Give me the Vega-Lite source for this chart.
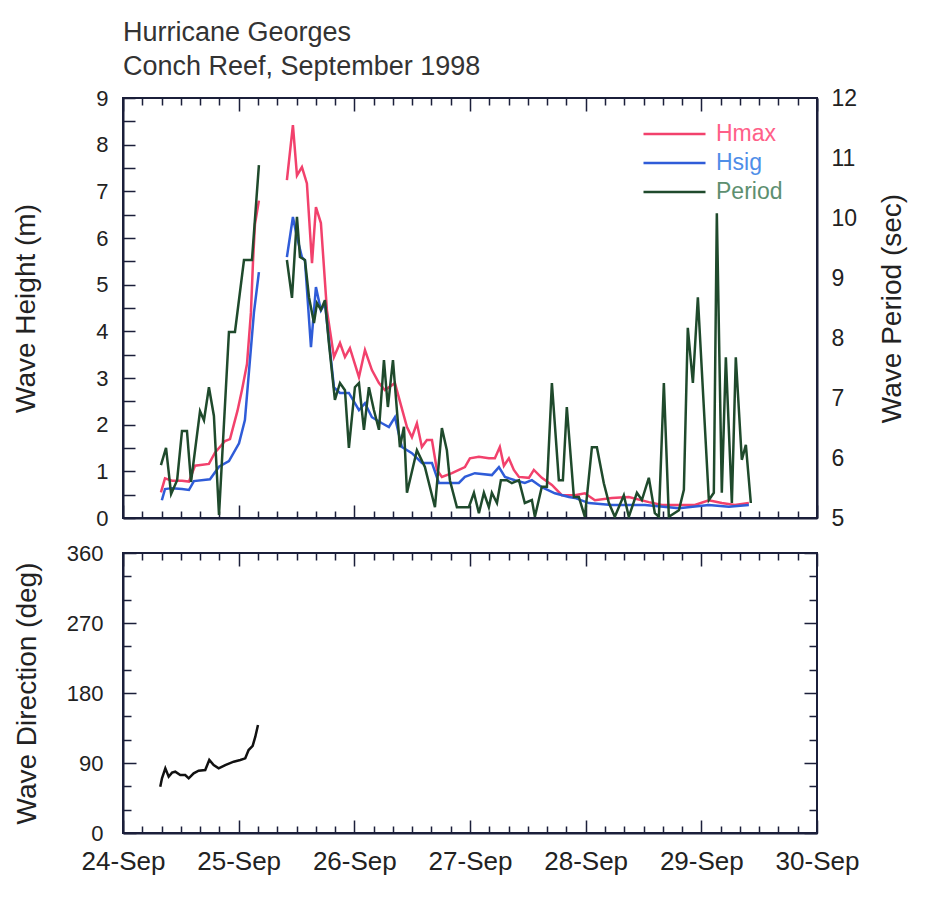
{
  "$schema": "https://vega.github.io/schema/vega-lite/v6.json",
  "padding": {"left": 11, "top": 18, "right": 5, "bottom": 5},
  "background": "white",
  "config": {
    "font": "Liberation Sans",
    "view": {"stroke": "#1b1f3a", "strokeWidth": 2},
    "axis": {"domainColor": "#1b1f3a", "domainWidth": 2, "ticks": false, "grid": true, "gridColor": "#1b1f3a", "gridWidth": 1.5, "gridOpacity": 1, "labelColor": "#222", "labelFontSize": 22, "titleFontSize": 28, "titleFontWeight": "normal", "titleColor": "#222", "labelFlush": false, "labelOverlap": false, "labelFont": "Liberation Sans", "titleFont": "Liberation Sans"}
  },
  "datasets": {
    "waves": [
      {"series":"Hmax","seg":1,"day":24.328,"value":0.55},{"series":"Hmax","seg":1,"day":24.363,"value":0.85},{"series":"Hmax","seg":1,"day":24.424,"value":0.8},{"series":"Hmax","seg":1,"day":24.51,"value":0.8},{"series":"Hmax","seg":1,"day":24.57,"value":0.78},{"series":"Hmax","seg":1,"day":24.622,"value":1.12},{"series":"Hmax","seg":1,"day":24.743,"value":1.16},{"series":"Hmax","seg":1,"day":24.795,"value":1.4},{"series":"Hmax","seg":1,"day":24.882,"value":1.65},{"series":"Hmax","seg":1,"day":24.925,"value":1.69},{"series":"Hmax","seg":1,"day":24.99,"value":2.3},{"series":"Hmax","seg":1,"day":25.029,"value":2.75},{"series":"Hmax","seg":1,"day":25.072,"value":3.3},{"series":"Hmax","seg":1,"day":25.106,"value":4.4},{"series":"Hmax","seg":1,"day":25.124,"value":5.5},{"series":"Hmax","seg":1,"day":25.141,"value":6.3},{"series":"Hmax","seg":1,"day":25.175,"value":6.8},
      {"series":"Hmax","seg":2,"day":25.417,"value":7.24},{"series":"Hmax","seg":2,"day":25.469,"value":8.42},{"series":"Hmax","seg":2,"day":25.504,"value":7.34},{"series":"Hmax","seg":2,"day":25.547,"value":7.52},{"series":"Hmax","seg":2,"day":25.59,"value":7.17},{"series":"Hmax","seg":2,"day":25.634,"value":5.46},{"series":"Hmax","seg":2,"day":25.668,"value":6.66},{"series":"Hmax","seg":2,"day":25.711,"value":6.32},{"series":"Hmax","seg":2,"day":25.763,"value":4.45},{"series":"Hmax","seg":2,"day":25.824,"value":3.45},{"series":"Hmax","seg":2,"day":25.876,"value":3.75},{"series":"Hmax","seg":2,"day":25.919,"value":3.45},{"series":"Hmax","seg":2,"day":25.962,"value":3.64},{"series":"Hmax","seg":2,"day":26.04,"value":3.02},{"series":"Hmax","seg":2,"day":26.092,"value":3.6},{"series":"Hmax","seg":2,"day":26.152,"value":3.17},{"series":"Hmax","seg":2,"day":26.213,"value":2.89},{"series":"Hmax","seg":2,"day":26.264,"value":2.74},{"series":"Hmax","seg":2,"day":26.351,"value":2.89},{"series":"Hmax","seg":2,"day":26.394,"value":2.5},{"series":"Hmax","seg":2,"day":26.455,"value":1.95},{"series":"Hmax","seg":2,"day":26.498,"value":1.73},{"series":"Hmax","seg":2,"day":26.541,"value":2.03},{"series":"Hmax","seg":2,"day":26.584,"value":1.52},{"series":"Hmax","seg":2,"day":26.627,"value":1.67},{"series":"Hmax","seg":2,"day":26.671,"value":1.67},{"series":"Hmax","seg":2,"day":26.714,"value":1.03},{"series":"Hmax","seg":2,"day":26.757,"value":0.88},{"series":"Hmax","seg":2,"day":26.844,"value":0.96},{"series":"Hmax","seg":2,"day":26.904,"value":1.03},{"series":"Hmax","seg":2,"day":26.956,"value":1.09},{"series":"Hmax","seg":2,"day":26.999,"value":1.28},{"series":"Hmax","seg":2,"day":27.077,"value":1.31},{"series":"Hmax","seg":2,"day":27.163,"value":1.28},{"series":"Hmax","seg":2,"day":27.215,"value":1.28},{"series":"Hmax","seg":2,"day":27.258,"value":1.52},{"series":"Hmax","seg":2,"day":27.293,"value":1.12},{"series":"Hmax","seg":2,"day":27.336,"value":1.28},{"series":"Hmax","seg":2,"day":27.379,"value":1.03},{"series":"Hmax","seg":2,"day":27.423,"value":0.88},{"series":"Hmax","seg":2,"day":27.509,"value":0.86},{"series":"Hmax","seg":2,"day":27.552,"value":1.03},{"series":"Hmax","seg":2,"day":27.621,"value":0.86},{"series":"Hmax","seg":2,"day":27.708,"value":0.71},{"series":"Hmax","seg":2,"day":27.794,"value":0.49},{"series":"Hmax","seg":2,"day":27.907,"value":0.49},{"series":"Hmax","seg":2,"day":27.993,"value":0.53},{"series":"Hmax","seg":2,"day":28.08,"value":0.38},{"series":"Hmax","seg":2,"day":28.226,"value":0.43},{"series":"Hmax","seg":2,"day":28.373,"value":0.45},{"series":"Hmax","seg":2,"day":28.546,"value":0.34},{"series":"Hmax","seg":2,"day":28.659,"value":0.28},{"series":"Hmax","seg":2,"day":28.806,"value":0.28},{"series":"Hmax","seg":2,"day":28.944,"value":0.28},{"series":"Hmax","seg":2,"day":29.065,"value":0.38},{"series":"Hmax","seg":2,"day":29.177,"value":0.32},{"series":"Hmax","seg":2,"day":29.29,"value":0.28},{"series":"Hmax","seg":2,"day":29.411,"value":0.32},
      {"series":"Hsig","seg":1,"day":24.336,"value":0.38},{"series":"Hsig","seg":1,"day":24.363,"value":0.62},{"series":"Hsig","seg":1,"day":24.424,"value":0.64},{"series":"Hsig","seg":1,"day":24.51,"value":0.62},{"series":"Hsig","seg":1,"day":24.57,"value":0.6},{"series":"Hsig","seg":1,"day":24.613,"value":0.79},{"series":"Hsig","seg":1,"day":24.752,"value":0.83},{"series":"Hsig","seg":1,"day":24.83,"value":1.1},{"series":"Hsig","seg":1,"day":24.916,"value":1.22},{"series":"Hsig","seg":1,"day":25.003,"value":1.6},{"series":"Hsig","seg":1,"day":25.054,"value":2.1},{"series":"Hsig","seg":1,"day":25.098,"value":3.4},{"series":"Hsig","seg":1,"day":25.132,"value":4.4},{"series":"Hsig","seg":1,"day":25.175,"value":5.27},
      {"series":"Hsig","seg":2,"day":25.417,"value":5.59},{"series":"Hsig","seg":2,"day":25.469,"value":6.45},{"series":"Hsig","seg":2,"day":25.504,"value":6.02},{"series":"Hsig","seg":2,"day":25.547,"value":5.59},{"series":"Hsig","seg":2,"day":25.573,"value":5.52},{"series":"Hsig","seg":2,"day":25.625,"value":3.66},{"series":"Hsig","seg":2,"day":25.668,"value":4.95},{"series":"Hsig","seg":2,"day":25.711,"value":4.45},{"series":"Hsig","seg":2,"day":25.746,"value":4.6},{"series":"Hsig","seg":2,"day":25.824,"value":2.8},{"series":"Hsig","seg":2,"day":25.876,"value":2.68},{"series":"Hsig","seg":2,"day":25.953,"value":2.68},{"series":"Hsig","seg":2,"day":26.04,"value":2.31},{"series":"Hsig","seg":2,"day":26.092,"value":2.46},{"series":"Hsig","seg":2,"day":26.152,"value":2.16},{"series":"Hsig","seg":2,"day":26.239,"value":2.03},{"series":"Hsig","seg":2,"day":26.299,"value":1.95},{"series":"Hsig","seg":2,"day":26.351,"value":2.16},{"series":"Hsig","seg":2,"day":26.411,"value":1.52},{"series":"Hsig","seg":2,"day":26.498,"value":1.39},{"series":"Hsig","seg":2,"day":26.584,"value":1.18},{"series":"Hsig","seg":2,"day":26.671,"value":1.18},{"series":"Hsig","seg":2,"day":26.731,"value":0.75},{"series":"Hsig","seg":2,"day":26.904,"value":0.75},{"series":"Hsig","seg":2,"day":26.956,"value":0.88},{"series":"Hsig","seg":2,"day":27.042,"value":0.96},{"series":"Hsig","seg":2,"day":27.189,"value":0.92},{"series":"Hsig","seg":2,"day":27.25,"value":1.09},{"series":"Hsig","seg":2,"day":27.302,"value":0.88},{"series":"Hsig","seg":2,"day":27.388,"value":0.81},{"series":"Hsig","seg":2,"day":27.474,"value":0.75},{"series":"Hsig","seg":2,"day":27.535,"value":0.81},{"series":"Hsig","seg":2,"day":27.621,"value":0.66},{"series":"Hsig","seg":2,"day":27.734,"value":0.53},{"series":"Hsig","seg":2,"day":27.855,"value":0.45},{"series":"Hsig","seg":2,"day":27.907,"value":0.43},{"series":"Hsig","seg":2,"day":28.028,"value":0.32},{"series":"Hsig","seg":2,"day":28.226,"value":0.28},{"series":"Hsig","seg":2,"day":28.512,"value":0.28},{"series":"Hsig","seg":2,"day":28.806,"value":0.21},{"series":"Hsig","seg":2,"day":29.065,"value":0.28},{"series":"Hsig","seg":2,"day":29.238,"value":0.24},{"series":"Hsig","seg":2,"day":29.411,"value":0.28},
      {"series":"Period","seg":1,"day":24.328,"value":5.88},{"series":"Period","seg":1,"day":24.372,"value":6.17},{"series":"Period","seg":1,"day":24.416,"value":5.4},{"series":"Period","seg":1,"day":24.468,"value":5.63},{"series":"Period","seg":1,"day":24.51,"value":6.45},{"series":"Period","seg":1,"day":24.553,"value":6.45},{"series":"Period","seg":1,"day":24.588,"value":5.6},{"series":"Period","seg":1,"day":24.666,"value":6.78},{"series":"Period","seg":1,"day":24.7,"value":6.63},{"series":"Period","seg":1,"day":24.743,"value":7.18},{"series":"Period","seg":1,"day":24.786,"value":6.7},{"series":"Period","seg":1,"day":24.83,"value":5.05},{"series":"Period","seg":1,"day":24.916,"value":8.1},{"series":"Period","seg":1,"day":24.968,"value":8.1},{"series":"Period","seg":1,"day":25.046,"value":9.3},{"series":"Period","seg":1,"day":25.115,"value":9.3},{"series":"Period","seg":1,"day":25.175,"value":10.88},
      {"series":"Period","seg":2,"day":25.417,"value":9.3},{"series":"Period","seg":2,"day":25.461,"value":8.67},{"series":"Period","seg":2,"day":25.504,"value":10.02},{"series":"Period","seg":2,"day":25.53,"value":9.35},{"series":"Period","seg":2,"day":25.573,"value":9.3},{"series":"Period","seg":2,"day":25.608,"value":8.68},{"series":"Period","seg":2,"day":25.651,"value":8.25},{"series":"Period","seg":2,"day":25.677,"value":8.58},{"series":"Period","seg":2,"day":25.711,"value":8.47},{"series":"Period","seg":2,"day":25.746,"value":8.63},{"series":"Period","seg":2,"day":25.78,"value":7.92},{"series":"Period","seg":2,"day":25.832,"value":6.97},{"series":"Period","seg":2,"day":25.876,"value":7.25},{"series":"Period","seg":2,"day":25.919,"value":7.13},{"series":"Period","seg":2,"day":25.953,"value":6.17},{"series":"Period","seg":2,"day":26.005,"value":7.18},{"series":"Period","seg":2,"day":26.04,"value":7.25},{"series":"Period","seg":2,"day":26.083,"value":6.47},{"series":"Period","seg":2,"day":26.126,"value":7.18},{"series":"Period","seg":2,"day":26.169,"value":6.8},{"series":"Period","seg":2,"day":26.213,"value":6.47},{"series":"Period","seg":2,"day":26.256,"value":7.63},{"series":"Period","seg":2,"day":26.29,"value":6.85},{"series":"Period","seg":2,"day":26.334,"value":7.63},{"series":"Period","seg":2,"day":26.368,"value":6.8},{"series":"Period","seg":2,"day":26.394,"value":6.18},{"series":"Period","seg":2,"day":26.429,"value":6.52},{"series":"Period","seg":2,"day":26.455,"value":5.42},{"series":"Period","seg":2,"day":26.541,"value":6.13},{"series":"Period","seg":2,"day":26.61,"value":5.85},{"series":"Period","seg":2,"day":26.697,"value":5.18},{"series":"Period","seg":2,"day":26.757,"value":6.5},{"series":"Period","seg":2,"day":26.8,"value":6.13},{"series":"Period","seg":2,"day":26.826,"value":5.63},{"series":"Period","seg":2,"day":26.887,"value":5.18},{"series":"Period","seg":2,"day":26.99,"value":5.18},{"series":"Period","seg":2,"day":27.034,"value":5.42},{"series":"Period","seg":2,"day":27.077,"value":5.08},{"series":"Period","seg":2,"day":27.12,"value":5.42},{"series":"Period","seg":2,"day":27.163,"value":5.18},{"series":"Period","seg":2,"day":27.189,"value":5.42},{"series":"Period","seg":2,"day":27.233,"value":5.25},{"series":"Period","seg":2,"day":27.267,"value":5.63},{"series":"Period","seg":2,"day":27.319,"value":5.63},{"series":"Period","seg":2,"day":27.362,"value":5.58},{"series":"Period","seg":2,"day":27.423,"value":5.63},{"series":"Period","seg":2,"day":27.474,"value":5.25},{"series":"Period","seg":2,"day":27.535,"value":5.3},{"series":"Period","seg":2,"day":27.561,"value":5.02},{"series":"Period","seg":2,"day":27.621,"value":5.52},{"series":"Period","seg":2,"day":27.665,"value":5.52},{"series":"Period","seg":2,"day":27.708,"value":7.25},{"series":"Period","seg":2,"day":27.768,"value":5.63},{"series":"Period","seg":2,"day":27.803,"value":5.63},{"series":"Period","seg":2,"day":27.837,"value":6.85},{"series":"Period","seg":2,"day":27.898,"value":5.35},{"series":"Period","seg":2,"day":27.941,"value":5.35},{"series":"Period","seg":2,"day":27.993,"value":5.02},{"series":"Period","seg":2,"day":28.054,"value":6.18},{"series":"Period","seg":2,"day":28.097,"value":6.18},{"series":"Period","seg":2,"day":28.157,"value":5.58},{"series":"Period","seg":2,"day":28.201,"value":5.25},{"series":"Period","seg":2,"day":28.252,"value":5.02},{"series":"Period","seg":2,"day":28.33,"value":5.38},{"series":"Period","seg":2,"day":28.373,"value":5.02},{"series":"Period","seg":2,"day":28.443,"value":5.42},{"series":"Period","seg":2,"day":28.486,"value":5.3},{"series":"Period","seg":2,"day":28.546,"value":5.67},{"series":"Period","seg":2,"day":28.598,"value":5.08},{"series":"Period","seg":2,"day":28.633,"value":5.02},{"series":"Period","seg":2,"day":28.676,"value":7.25},{"series":"Period","seg":2,"day":28.719,"value":5.02},{"series":"Period","seg":2,"day":28.806,"value":5.13},{"series":"Period","seg":2,"day":28.849,"value":5.47},{"series":"Period","seg":2,"day":28.883,"value":8.17},{"series":"Period","seg":2,"day":28.927,"value":7.25},{"series":"Period","seg":2,"day":28.97,"value":8.68},{"series":"Period","seg":2,"day":29.065,"value":5.3},{"series":"Period","seg":2,"day":29.108,"value":5.42},{"series":"Period","seg":2,"day":29.134,"value":10.08},{"series":"Period","seg":2,"day":29.177,"value":5.42},{"series":"Period","seg":2,"day":29.212,"value":7.68},{"series":"Period","seg":2,"day":29.264,"value":5.25},{"series":"Period","seg":2,"day":29.298,"value":7.68},{"series":"Period","seg":2,"day":29.35,"value":5.97},{"series":"Period","seg":2,"day":29.385,"value":6.22},{"series":"Period","seg":2,"day":29.428,"value":5.25}
    ],
    "direction": [
      {"day":24.322,"value":59.5},{"day":24.337,"value":70.3},{"day":24.366,"value":83.2},{"day":24.395,"value":72.4},{"day":24.424,"value":77.6},{"day":24.452,"value":78.8},{"day":24.495,"value":74.6},{"day":24.538,"value":74.6},{"day":24.568,"value":70.3},{"day":24.611,"value":76.8},{"day":24.654,"value":80.1},{"day":24.711,"value":81},{"day":24.746,"value":93.9},{"day":24.784,"value":87.4},{"day":24.827,"value":83.2},{"day":24.884,"value":87.4},{"day":24.957,"value":91.7},{"day":25.014,"value":93.9},{"day":25.057,"value":96},{"day":25.086,"value":106.7},{"day":25.121,"value":111.9},{"day":25.144,"value":123.8},{"day":25.167,"value":138.9}
    ]
  },
  "spacing": 10,
  "resolve": {"scale": {"color": "independent"}, "legend": {"color": "independent"}},
  "vconcat": [
    {
      "width": 694,
      "height": 420,
      "title": {"text": ["Hurricane Georges", "Conch Reef, September 1998"], "anchor": "start", "frame": "group", "fontSize": 27, "fontWeight": "normal", "color": "#333", "lineHeight": 34, "offset": 6, "font": "Liberation Sans"},
      "data": {"name": "waves"},
      "layer": [
        {
          "transform": [{"filter": "datum.series !== 'Period'"}],
          "mark": {"type": "line", "strokeWidth": 2.5, "clip": true},
          "encoding": {
            "x": {
              "field": "day",
              "type": "quantitative",
              "scale": {"domain": [24, 30], "nice": false, "zero": false},
              "axis": {
                "orient": "bottom",
                "title": null,
                "labels": false,
                "values": [24,24.1667,24.3333,24.5,24.6667,24.8333,25,25.1667,25.3333,25.5,25.6667,25.8333,26,26.1667,26.3333,26.5,26.6667,26.8333,27,27.1667,27.3333,27.5,27.6667,27.8333,28,28.1667,28.3333,28.5,28.6667,28.8333,29,29.1667,29.3333,29.5,29.6667,29.8333,30],
                "gridDash": {"condition": {"test": "abs(datum.value - round(datum.value)) < 0.01", "value": [13, 394, 13, 0]}, "value": [7, 406, 7, 0]}
              }
            },
            "y": {
              "field": "value",
              "type": "quantitative",
              "scale": {"domain": [0, 9], "nice": false},
              "axis": {
                "orient": "left",
                "title": "Wave Height (m)",
                "titlePadding": 55,
                "values": [0,0.5,1,1.5,2,2.5,3,3.5,4,4.5,5,5.5,6,6.5,7,7.5,8,8.5,9],
                "gridDash": [12, 682],
                "labelPadding": 15,
                "labelExpr": "datum.value % 1 === 0 ? '' + datum.value : ''"
              }
            },
            "color": {
              "field": "series",
              "type": "nominal",
              "scale": {"domain": ["Hmax", "Hsig", "Period"], "range": ["#f2416c", "#2f5cd8", "#1f4a2c"]},
              "legend": {
                "title": null,
                "orient": "none",
                "legendX": 519,
                "legendY": 26,
                "symbolType": "stroke",
                "symbolSize": 3844,
                "symbolStrokeWidth": 2.5,
                "labelFontSize": 23,
                "labelFont": "Liberation Sans",
                "clipHeight": 20,
                "rowPadding": 6,
                "labelOffset": 9,
                "encode": {
                  "labels": {
                    "update": {
                      "fill": {"signal": "datum.value === 'Hmax' ? '#ff6088' : datum.value === 'Hsig' ? '#4f8ee8' : '#5d8f70'"}
                    }
                  }
                }
              }
            },
            "detail": {"field": "seg", "type": "nominal"}
          }
        },
        {
          "transform": [{"filter": "datum.series === 'Period'"}],
          "mark": {"type": "line", "strokeWidth": 2.5, "clip": true},
          "encoding": {
            "x": {
              "field": "day",
              "type": "quantitative",
              "scale": {"domain": [24, 30], "nice": false, "zero": false},
              "axis": null
            },
            "y": {
              "field": "value",
              "type": "quantitative",
              "scale": {"domain": [5, 12], "nice": false, "zero": false},
              "axis": {
                "orient": "right",
                "title": "Wave Period (sec)",
                "titleAngle": 270,
                "titleBaseline": "top",
                "titlePadding": 22,
                "values": [5,5.5,6,6.5,7,7.5,8,8.5,9,9.5,10,10.5,11,11.5,12],
                "gridDash": {"condition": {"test": "datum.value % 1 === 0", "value": [12, 682]}, "value": [7, 687]},
                "labelFontSize": 23,
                "labelPadding": 14,
                "labelExpr": "datum.value % 1 === 0 ? '' + datum.value : ''"
              }
            },
            "color": {
              "field": "series",
              "type": "nominal",
              "scale": {"domain": ["Hmax", "Hsig", "Period"], "range": ["#f2416c", "#2f5cd8", "#1f4a2c"]}
            },
            "detail": {"field": "seg", "type": "nominal"}
          }
        }
      ],
      "resolve": {"scale": {"x": "independent", "y": "independent"}, "axis": {"x": "independent", "y": "independent"}}
    },
    {
      "width": 694,
      "height": 280,
      "data": {"name": "direction"},
      "mark": {"type": "line", "color": "#111", "strokeWidth": 2.5},
      "encoding": {
        "x": {
          "field": "day",
          "type": "quantitative",
          "scale": {"domain": [24, 30], "nice": false, "zero": false},
          "axis": {
            "orient": "bottom",
            "title": null,
            "labelFontSize": 26,
            "labelPadding": 15,
            "values": [24,24.1667,24.3333,24.5,24.6667,24.8333,25,25.1667,25.3333,25.5,25.6667,25.8333,26,26.1667,26.3333,26.5,26.6667,26.8333,27,27.1667,27.3333,27.5,27.6667,27.8333,28,28.1667,28.3333,28.5,28.6667,28.8333,29,29.1667,29.3333,29.5,29.6667,29.8333,30],
            "labelExpr": "abs(datum.value - round(datum.value)) < 0.01 ? round(datum.value) + '-Sep' : ''",
            "gridDash": {"condition": {"test": "abs(datum.value - round(datum.value)) < 0.01", "value": [13, 254, 13, 0]}, "value": [7, 266, 7, 0]}
          }
        },
        "y": {
          "field": "value",
          "type": "quantitative",
          "scale": {"domain": [0, 360], "nice": false},
          "axis": {
            "orient": "left",
            "title": "Wave Direction (deg)",
            "titlePadding": 25,
            "values": [0,30,60,90,120,150,180,210,240,270,300,330,360],
            "gridDash": {"condition": {"test": "datum.value % 90 === 0", "value": [13, 668, 13, 0]}, "value": [8, 678, 8, 0]},
            "labelPadding": 20,
            "labelExpr": "datum.value % 90 === 0 ? '' + datum.value : ''"
          }
        }
      }
    }
  ]
}
